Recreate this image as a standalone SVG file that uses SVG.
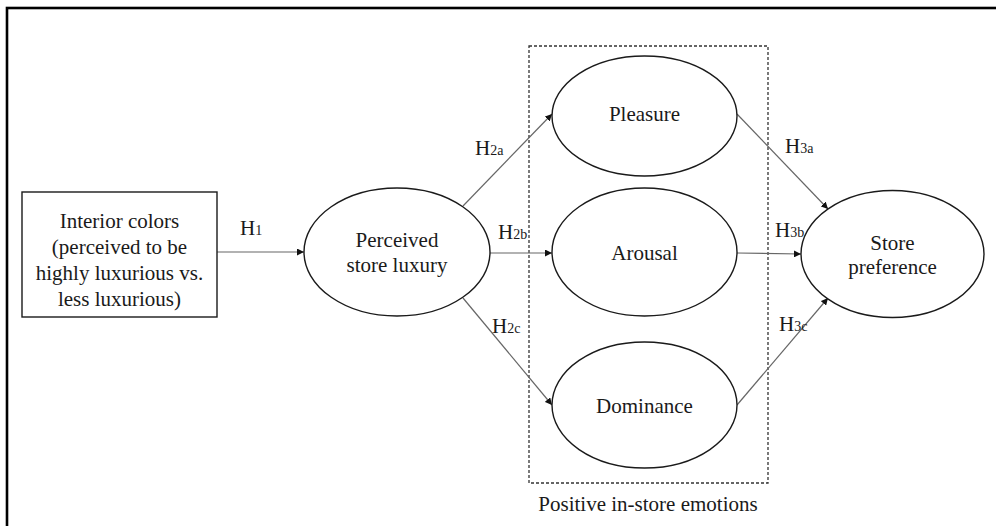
<svg xmlns="http://www.w3.org/2000/svg" width="996" height="526" viewBox="0 0 996 526">
<defs>
<style>
.node{fill:#fff;stroke:#1a1a1a;stroke-width:1.4}
.t{font-family:"Liberation Serif","Times New Roman",serif;font-size:21px;fill:#1a1a1a;text-anchor:middle}
.h{font-family:"Liberation Serif","Times New Roman",serif;font-size:21px;fill:#1a1a1a}
.s{font-size:14px}
.c{stroke:#666;stroke-width:1.2;fill:none;marker-end:url(#ah)}
</style>
<marker id="ah" viewBox="0 0 10 10" refX="10" refY="5" markerWidth="7" markerHeight="7" markerUnits="userSpaceOnUse" orient="auto">
<path d="M0,0 L10,5 L0,10 z" fill="#111"/>
</marker>
</defs>
<rect x="0" y="0" width="996" height="526" fill="#fff"/>
<rect x="7" y="8" width="1000" height="530" fill="none" stroke="#000" stroke-width="2.6"/>

<g id="emotions-group">
<rect x="529" y="46" width="239" height="437" fill="none" stroke="#333" stroke-width="1.3" stroke-dasharray="3,2"/>
<text class="t" x="648" y="511">Positive in-store emotions</text>
</g>

<g id="connectors">
<line class="c" x1="217" y1="252" x2="304" y2="252"/>
<line class="c" x1="463" y1="206" x2="552" y2="114"/>
<line class="c" x1="490" y1="253" x2="552" y2="253"/>
<line class="c" x1="463" y1="298" x2="552" y2="405"/>
<line class="c" x1="737" y1="114" x2="828" y2="209"/>
<line class="c" x1="737" y1="253" x2="801" y2="254"/>
<line class="c" x1="737" y1="405" x2="828" y2="298"/>
</g>

<g id="labels">
<text class="h" x="240" y="235">H<tspan class="s">1</tspan></text>
<text class="h" x="475" y="155">H<tspan class="s">2a</tspan></text>
<text class="h" x="498" y="239">H<tspan class="s">2b</tspan></text>
<text class="h" x="492" y="333">H<tspan class="s">2c</tspan></text>
<text class="h" x="785" y="153">H<tspan class="s">3a</tspan></text>
<text class="h" x="775" y="237">H<tspan class="s">3b</tspan></text>
<text class="h" x="779" y="331">H<tspan class="s">3c</tspan></text>
</g>

<g id="interior-colors">
<rect class="node" x="22" y="192" width="195" height="125"/>
<text class="t" x="119.5" y="228">Interior colors</text>
<text class="t" x="119.5" y="254">(perceived to be</text>
<text class="t" x="119.5" y="280">highly luxurious vs.</text>
<text class="t" x="119.5" y="306">less luxurious)</text>
</g>

<g id="perceived-store-luxury">
<ellipse class="node" cx="397" cy="252" rx="93" ry="64"/>
<text class="t" x="397" y="247">Perceived</text>
<text class="t" x="397" y="272">store luxury</text>
</g>

<g id="pleasure">
<ellipse class="node" cx="644.5" cy="116" rx="92.5" ry="60"/>
<text class="t" x="644.5" y="121">Pleasure</text>
</g>

<g id="arousal">
<ellipse class="node" cx="644.5" cy="252" rx="92.5" ry="64"/>
<text class="t" x="644.5" y="260">Arousal</text>
</g>

<g id="dominance">
<ellipse class="node" cx="644.5" cy="405" rx="92.5" ry="63"/>
<text class="t" x="644.5" y="413">Dominance</text>
</g>

<g id="store-preference">
<ellipse class="node" cx="892.5" cy="254" rx="91.5" ry="63.5"/>
<text class="t" x="892.5" y="250">Store</text>
<text class="t" x="892.5" y="274">preference</text>
</g>
</svg>
